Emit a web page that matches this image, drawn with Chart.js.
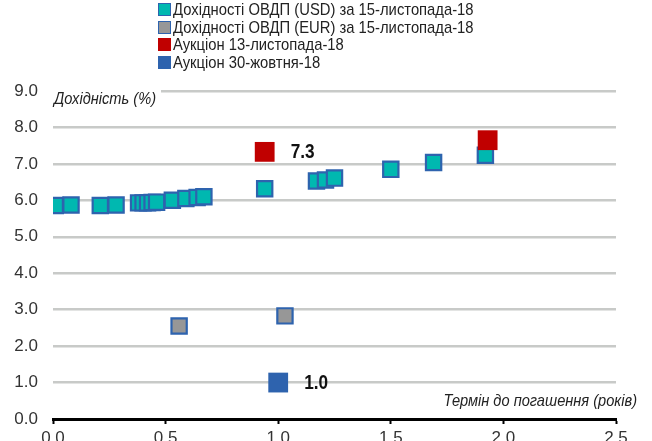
<!DOCTYPE html>
<html>
<head>
<meta charset="utf-8">
<script src="https://cdn.jsdelivr.net/npm/chart.js@4"></script>
<style>
  body { margin: 0; background: #fff; }
  #wrap { position: relative; width: 652px; height: 441px; overflow: hidden; }
  #chart { position: absolute; left: 0; top: 0; }
  #legend {
    position: absolute; left: 158px; top: 1px;
    font-family: 'Liberation Sans Narrow', 'Arial Narrow', 'Liberation Sans', sans-serif;
    font-size: 17px; color: #222; line-height: 17.6px;
  }
  #legend div { display: flex; align-items: center; white-space: nowrap; }
  #legend span.box { display: inline-block; width: 13px; height: 13px; box-sizing: border-box; margin-right: 2px; flex: none; }
  #legend span.txt { display: inline-block; transform: scaleX(0.87); transform-origin: left center; }
</style>
</head>
<body>
<div id="wrap">
  <canvas id="chart" width="652" height="441"></canvas>
  <div id="legend"></div>
</div>
<script>
// Series labels
const seriesLabels = [
  'Дохідності ОВДП (USD) за 15-листопада-18',
  'Дохідності ОВДП (EUR) за 15-листопада-18',
  'Аукціон 13-листопада-18',
  'Аукціон 30-жовтня-18'
];
const yTitle = 'Дохідність (%)';
const xTitle = 'Термін до погашення (років)';

// USD bonds yield curve (term in years, yield %)
const usdTerm  = [0.01, 0.08, 0.21, 0.28, 0.38, 0.40, 0.42, 0.44, 0.46, 0.53, 0.59, 0.64, 0.67, 0.94, 1.17, 1.21, 1.25, 1.50, 1.69, 1.92];
const usdYield = [5.86, 5.87, 5.86, 5.87, 5.93, 5.93, 5.93, 5.94, 5.95, 6.00, 6.05, 6.08, 6.10, 6.32, 6.53, 6.56, 6.61, 6.85, 7.04, 7.24];

// EUR bonds
const eurTerm  = [0.56, 1.03];
const eurYield = [2.55, 2.83];

// Auction 13 Nov
const auc1Term  = [0.94, 1.93];
const auc1Yield = [7.33, 7.65];
const auc1Show  = [true, false];

// Auction 30 Oct
const auc2Term  = [1.00];
const auc2Yield = [1.00];
const auc2Show  = [true];

const xTicks = [0, 0.5, 1.0, 1.5, 2.0, 2.5];
const yMin = 0, yMax = 9;

const teal = '#00B8B0', border = '#2E63AE', red = '#C00000', gray = '#979797';
const narrow = 0.86;

const toPts = (xs, ys) => xs.map((x, i) => ({ x: x, y: ys[i] }));

Chart.defaults.font.family = "'Liberation Sans Narrow', 'Arial Narrow', 'Liberation Sans', sans-serif";
Chart.defaults.font.size = 17;
Chart.defaults.color = '#333';

const datasets = [
  { label: seriesLabels[0], data: toPts(usdTerm, usdYield), backgroundColor: teal, borderColor: border,
    borderWidth: 2.2, pointStyle: 'rect', pointRadius: 10.8, order: 3 },
  { label: seriesLabels[1], data: toPts(eurTerm, eurYield), backgroundColor: gray, borderColor: border,
    borderWidth: 2.2, pointStyle: 'rect', pointRadius: 10.8, order: 2 },
  { label: seriesLabels[2], data: toPts(auc1Term, auc1Yield), backgroundColor: red, borderColor: red,
    borderWidth: 0, pointStyle: 'rect', pointRadius: 14, order: 1, showValue: auc1Show },
  { label: seriesLabels[3], data: toPts(auc2Term, auc2Yield), backgroundColor: border, borderColor: border,
    borderWidth: 0, pointStyle: 'rect', pointRadius: 14, order: 0, showValue: auc2Show }
];

// draw text squeezed horizontally (narrow font look)
function narrowText(ctx, text, x, y) {
  ctx.save();
  ctx.translate(x, y);
  ctx.scale(narrow, 1);
  ctx.fillText(text, 0, 0);
  ctx.restore();
}

// Value labels next to auction points
const valueLabels = {
  id: 'valueLabels',
  afterDatasetsDraw(chart) {
    const ctx = chart.ctx;
    ctx.save();
    ctx.font = "bold 20px 'Liberation Sans Narrow', 'Arial Narrow', 'Liberation Sans', sans-serif";
    ctx.fillStyle = '#111';
    ctx.textBaseline = 'middle';
    ctx.textAlign = 'left';
    chart.data.datasets.forEach((ds, di) => {
      if (!ds.showValue) return;
      const meta = chart.getDatasetMeta(di);
      meta.data.forEach((pt, i) => {
        if (!ds.showValue[i]) return;
        narrowText(ctx, ds.data[i].y.toFixed(1), pt.x + 26, pt.y + 1);
      });
    });
    ctx.restore();
  }
};

// Axis titles drawn inside the plot
const axisTitles = {
  id: 'axisTitles',
  afterDraw(chart) {
    const ctx = chart.ctx;
    const area = chart.chartArea;
    ctx.save();
    ctx.font = "italic 17px 'Liberation Sans Narrow', 'Arial Narrow', 'Liberation Sans', sans-serif";
    ctx.textBaseline = 'middle';
    // y title with white background over the top gridline
    const w = ctx.measureText(yTitle).width * narrow;
    ctx.fillStyle = '#fff';
    ctx.fillRect(area.left, area.top - 4, w + 6, 24);
    ctx.fillStyle = '#222';
    ctx.textAlign = 'left';
    narrowText(ctx, yTitle, area.left + 1, area.top + 8);
    // x title
    ctx.textAlign = 'right';
    narrowText(ctx, xTitle, area.right + 21, area.bottom - 18);
    ctx.restore();
  }
};

new Chart(document.getElementById('chart'), {
  type: 'scatter',
  data: { datasets: datasets },
  options: {
    responsive: false,
    animation: false,
    layout: { padding: { top: 91, right: 36, bottom: 0, left: 0 } },
    plugins: { legend: { display: false }, tooltip: { enabled: false } },
    scales: {
      x: {
        type: 'linear', min: xTicks[0], max: xTicks[xTicks.length - 1],
        afterBuildTicks: (s) => { s.ticks = xTicks.map(v => ({ value: v })); },
        afterFit: (s) => { s.height = 22; },
        border: { display: true, color: '#000', width: 3 },
        grid: { drawOnChartArea: false, drawTicks: true, tickLength: 5, tickColor: '#000', tickWidth: 2 },
        ticks: { padding: 4, color: '#333', callback: (v) => Number(v).toFixed(1) }
      },
      y: {
        min: yMin, max: yMax,
        afterFit: (s) => { s.width = 53; s.paddingBottom = 0; },
        border: { display: false },
        grid: { color: '#C8CAC8', lineWidth: 2.5, drawTicks: false },
        ticks: { stepSize: 1, padding: 15, color: '#333', callback: (v) => Number(v).toFixed(1) }
      }
    }
  },
  plugins: [valueLabels, axisTitles]
});

// HTML legend, one entry per line
const legend = document.getElementById('legend');
datasets.forEach((ds) => {
  const row = document.createElement('div');
  const box = document.createElement('span');
  box.className = 'box';
  box.style.background = ds.backgroundColor;
  if (ds.borderWidth) box.style.border = '1.5px solid ' + ds.borderColor;
  const txt = document.createElement('span');
  txt.className = 'txt';
  txt.textContent = ds.label;
  row.appendChild(box);
  row.appendChild(txt);
  legend.appendChild(row);
});
</script>
</body>
</html>
